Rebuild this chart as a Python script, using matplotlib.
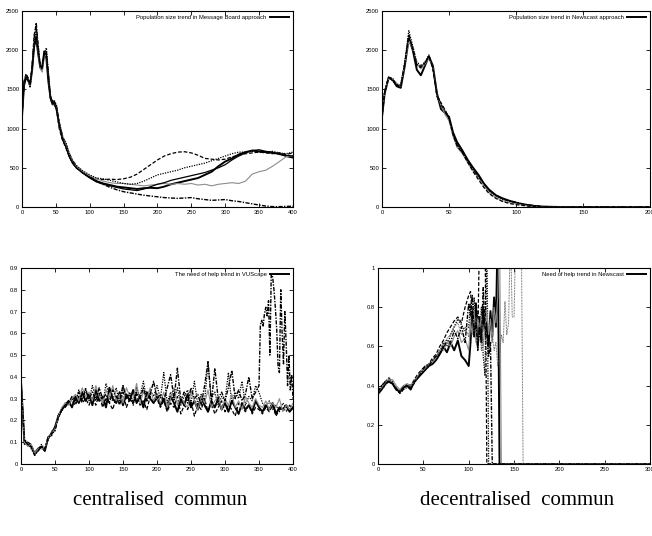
import matplotlib
matplotlib.use('Agg')
import matplotlib.pyplot as plt

# 1. Data
# --- top left: population size, message board (x = time)
tl_x = [0, 3, 6, 9, 12, 15, 18, 21, 24, 27, 30, 33, 36, 39, 42, 45, 48, 51,
        55, 60, 65, 70, 75, 80,
        90, 100, 110, 120, 130, 140,
        150, 160, 170, 180, 190, 200, 210, 220, 230, 240, 250, 260, 270,
        280, 290, 300, 310, 320, 330, 340, 350, 360, 370, 380, 390, 400]
tl_solid = [1150, 1550, 1650, 1620, 1560, 1750, 2050, 2150, 1950, 1780, 1800, 1980, 1900, 1600, 1400, 1320, 1330, 1250,
            1050, 870, 780, 650, 560, 510,
            440, 380, 330, 300, 280, 260,
            250, 240, 230, 240, 245, 240, 260, 290, 310, 330, 350, 370, 410,
            450, 520, 580, 620, 670, 700, 720, 710, 700, 690, 680, 650, 630]
tl_dashed = [1150, 1600, 1700, 1650, 1580, 1800, 2200, 2300, 2000, 1800, 1750, 1950, 1950, 1650, 1400, 1300, 1300, 1250,
             1000, 850, 750, 640, 560, 500,
             430, 380, 360, 350, 355, 350,
             360, 380, 420, 480, 540, 600, 650, 680, 700, 705, 690, 660, 620,
             610, 600, 610, 640, 660, 680, 690, 700, 690, 680, 690, 670, 690]
tl_falling = [1150, 1580, 1680, 1640, 1550, 1780, 2150, 2350, 2050, 1780, 1760, 2000, 1980, 1700, 1400, 1350, 1350, 1280,
              1080, 900, 800, 680, 590, 530,
              440, 390, 330, 290, 250, 220,
              195, 180, 165, 150, 140, 130, 120, 115, 110, 115, 120, 105, 95,
              85, 90, 95, 80, 70, 55, 40, 25, 12, 5, 5, 8, 10]
tl_gray = [1150, 1620, 1660, 1600, 1540, 1760, 2100, 2200, 1980, 1760, 1720, 1920, 1940, 1680, 1380, 1300, 1310, 1260,
           1040, 880, 790, 660, 570, 520,
           450, 400, 360, 330, 310, 300,
           300, 290, 280, 270, 280, 290, 300, 290, 300, 290, 300, 280, 290,
           270, 290, 300, 310, 300, 330, 420, 450, 470, 520, 580, 640, 660]
tl_dotted = [1150, 1560, 1640, 1620, 1520, 1800, 2100, 2250, 2050, 1800, 1770, 1960, 2030, 1720, 1420, 1340, 1350, 1300,
             1060, 880, 820, 660, 580, 530,
             460, 410, 370, 360, 340, 320,
             300, 290, 300, 330, 370, 410, 430, 450, 470, 500, 520, 540, 560,
             590, 620, 650, 680, 700, 700, 710, 700, 700, 710, 690, 680, 700]
tl_thin = [1150, 1600, 1660, 1610, 1570, 1760, 2080, 2180, 1990, 1790, 1780, 1970, 1950, 1660, 1380, 1310, 1320, 1240,
           1040, 860, 760, 640, 560, 500,
           430, 370, 320, 290, 270, 250,
           230, 220, 210, 230, 260, 290, 310, 340, 360, 380, 400, 420, 440,
           470, 500, 540, 600, 650, 690, 720, 730, 710, 700, 670, 660, 650]

# --- top right: population size, newscast
tr_x = [0, 2, 5, 8, 11, 14, 17, 20, 23, 26, 29, 32, 35, 38, 41, 44, 47, 50,
        53, 56, 60, 64, 68, 72, 76, 80,
        85, 90, 95, 100, 105, 110, 115, 120,
        130, 140, 150, 160, 170, 180, 190, 200]
tr_solid = [1150, 1450, 1650, 1620, 1540, 1520, 1800, 2150, 2000, 1750, 1680, 1800, 1920, 1800, 1450, 1250, 1200, 1150,
            950, 830, 720, 600, 500, 410, 300, 220,
            150, 110, 80, 55, 35, 22, 12, 5,
            1, 0, 0, 0, 0, 0, 0, 0]
tr_dotted = [1150, 1480, 1660, 1640, 1560, 1560, 1850, 2250, 2050, 1850, 1800, 1850, 1940, 1780, 1400, 1280, 1220, 1120,
             930, 800, 700, 580, 470, 380, 290, 200,
             140, 100, 70, 50, 30, 18, 8, 3,
             1, 0, 0, 0, 0, 0, 0, 0]
tr_gray = [1150, 1470, 1640, 1630, 1580, 1540, 1820, 2120, 2020, 1830, 1760, 1820, 1900, 1780, 1430, 1300, 1180, 1100,
           900, 760, 680, 560, 460, 370, 270, 180,
           120, 80, 55, 40, 25, 12, 6, 2,
           0, 0, 0, 0, 0, 0, 0, 0]
tr_dashed = [1150, 1460, 1650, 1630, 1560, 1530, 1820, 2180, 2030, 1800, 1780, 1840, 1920, 1760, 1420, 1330, 1240, 1140,
             920, 780, 690, 570, 450, 350, 250, 170,
             110, 70, 45, 30, 20, 10, 5, 2,
             0, 0, 0, 0, 0, 0, 0, 0]
tr_dashdot = [1150, 1470, 1660, 1610, 1550, 1550, 1830, 2200, 2010, 1820, 1790, 1830, 1930, 1770, 1440, 1310, 1230, 1130,
              940, 790, 700, 590, 480, 390, 300, 210,
              150, 105, 80, 60, 40, 25, 12, 5,
              2, 0, 0, 0, 0, 0, 0, 0]

# --- bottom left: need of help, VUScape (every 5 steps)
bl_x = list(range(0, 401, 5))
bl_solid = [0.38, 0.10, 0.09, 0.08, 0.05, 0.07, 0.08, 0.06, 0.12, 0.14, 0.17,
            0.22, 0.25, 0.27, 0.29, 0.26, 0.31, 0.28, 0.33, 0.29, 0.32,
            0.27, 0.34, 0.29, 0.31, 0.26, 0.35, 0.30, 0.28, 0.33, 0.27,
            0.32, 0.29, 0.34, 0.28, 0.31, 0.26, 0.33, 0.30, 0.28, 0.32,
            0.27, 0.30, 0.25, 0.31, 0.28, 0.24, 0.30, 0.27, 0.32, 0.26,
            0.29, 0.25, 0.31, 0.27, 0.24, 0.29, 0.26, 0.30, 0.25, 0.28,
            0.24, 0.29, 0.26, 0.23, 0.28, 0.25, 0.27, 0.24, 0.29, 0.26,
            0.24, 0.27, 0.25, 0.28, 0.23, 0.26, 0.25, 0.27, 0.24, 0.26]
bl_dotted = [0.37, 0.11, 0.10, 0.07, 0.04, 0.06, 0.09, 0.07, 0.11, 0.15, 0.16,
             0.23, 0.24, 0.28, 0.27, 0.30, 0.28, 0.34, 0.30, 0.35, 0.29,
             0.36, 0.30, 0.33, 0.27, 0.37, 0.31, 0.29, 0.35, 0.28, 0.36,
             0.30, 0.33, 0.27, 0.35, 0.31, 0.38, 0.29, 0.34, 0.31, 0.36,
             0.30, 0.42, 0.28, 0.33, 0.29, 0.35, 0.27, 0.31, 0.34, 0.28,
             0.38, 0.27, 0.32, 0.29, 0.46, 0.30, 0.33, 0.27, 0.31, 0.29,
             0.42, 0.28, 0.33, 0.30, 0.38, 0.27, 0.31, 0.29, 0.36, 0.33,
             0.28, 0.26, 0.29, 0.25, 0.27, 0.24, 0.28, 0.26, 0.25, 0.27]
bl_dashed = [0.38, 0.09, 0.10, 0.09, 0.05, 0.06, 0.08, 0.06, 0.13, 0.13, 0.16,
             0.21, 0.25, 0.26, 0.28, 0.29, 0.27, 0.31, 0.28, 0.30, 0.27,
             0.31, 0.27, 0.32, 0.26, 0.30, 0.28, 0.25, 0.31, 0.27, 0.33,
             0.26, 0.30, 0.28, 0.32, 0.27, 0.29, 0.25, 0.31, 0.28, 0.30,
             0.26, 0.29, 0.24, 0.28, 0.26, 0.31, 0.23, 0.27, 0.25, 0.29,
             0.22, 0.27, 0.25, 0.30, 0.24, 0.28, 0.23, 0.26, 0.29, 0.24,
             0.27, 0.25, 0.22, 0.28, 0.26, 0.24, 0.27, 0.23, 0.26, 0.25,
             0.23, 0.26, 0.24, 0.27, 0.22, 0.25, 0.26, 0.24, 0.27, 0.25]
bl_gray = [0.39, 0.10, 0.08, 0.09, 0.05, 0.07, 0.07, 0.07, 0.12, 0.14, 0.16,
           0.22, 0.26, 0.28, 0.27, 0.30, 0.32, 0.29, 0.35, 0.31, 0.33,
           0.29, 0.36, 0.31, 0.28, 0.34, 0.30, 0.36, 0.29, 0.32, 0.28,
           0.35, 0.31, 0.30, 0.37, 0.28, 0.33, 0.30, 0.35, 0.29, 0.32,
           0.28, 0.33, 0.26, 0.30, 0.35, 0.27, 0.31, 0.28, 0.26, 0.33,
           0.29, 0.25, 0.31, 0.28, 0.34, 0.26, 0.29, 0.31, 0.25, 0.30,
           0.27, 0.32, 0.26, 0.29, 0.25, 0.31, 0.28, 0.26, 0.30, 0.27,
           0.26, 0.29, 0.25, 0.28, 0.26, 0.30, 0.24, 0.27, 0.25, 0.28]
# the run that blows up after t=350, sampled finer at the end
bl_spike_x = list(range(0, 351, 5)) + list(range(352, 401, 2))
bl_spike = [0.38, 0.11, 0.09, 0.08, 0.04, 0.06, 0.08, 0.07, 0.12, 0.14, 0.15,
            0.22, 0.25, 0.27, 0.28, 0.31, 0.29, 0.33, 0.29, 0.34, 0.30,
            0.33, 0.29, 0.35, 0.30, 0.32, 0.28, 0.34, 0.31, 0.29, 0.36,
            0.30, 0.32, 0.28, 0.33, 0.30, 0.35, 0.29, 0.32, 0.38, 0.30,
            0.32, 0.29, 0.35, 0.41, 0.30, 0.44, 0.29, 0.33, 0.28, 0.35,
            0.30, 0.32, 0.27, 0.36, 0.47, 0.28, 0.44, 0.30, 0.33, 0.29,
            0.35, 0.43, 0.30, 0.34, 0.29, 0.32, 0.40, 0.30, 0.33, 0.36,
            0.64, 0.66, 0.63, 0.69, 0.72, 0.68, 0.75, 0.50, 0.87, 0.86,
            0.80, 0.72, 0.62, 0.45, 0.42, 0.80, 0.60, 0.46, 0.70, 0.55,
            0.36, 0.50, 0.34, 0.41, 0.30]

# --- bottom right: need of help, newscast (values > 1 get clipped at the top)
br_x = list(range(0, 100, 4)) + list(range(100, 161, 2)) + [200, 250, 300]
br_solid = [0.36, 0.38, 0.41, 0.42, 0.41, 0.38, 0.37, 0.39, 0.40, 0.38, 0.42, 0.44, 0.46,
            0.48, 0.50, 0.51, 0.53, 0.56, 0.60, 0.57, 0.62, 0.58, 0.63, 0.55, 0.53,
            0.50, 0.62, 0.78, 0.65, 0.82, 0.60, 0.75, 0.62, 0.80, 0.66, 0.72, 0.60, 0.78,
            0.65, 0.85, 0.70, 1.20, 0, 0, 0, 0, 0, 0, 0, 0, 0, 0, 0, 0, 0, 0,
            0, 0, 0]
br_dashed = [0.37, 0.40, 0.42, 0.44, 0.41, 0.39, 0.36, 0.38, 0.41, 0.40, 0.43, 0.46, 0.48,
             0.50, 0.51, 0.54, 0.56, 0.60, 0.63, 0.67, 0.70, 0.73, 0.75, 0.72, 0.80,
             0.86, 0.88, 0.75, 0.68, 0.80, 0.62, 1.20, 1.20, 1.20, 1.20, 0, 0, 0,
             0, 0, 0, 0, 0, 0, 0, 0, 0, 0, 0, 0, 0, 0, 0, 0, 0, 0,
             0, 0, 0]
br_dotted = [0.35, 0.38, 0.40, 0.43, 0.42, 0.38, 0.36, 0.38, 0.39, 0.39, 0.41, 0.44, 0.47,
             0.48, 0.50, 0.52, 0.55, 0.57, 0.62, 0.60, 0.66, 0.70, 0.74, 0.71, 0.68,
             0.70, 0.82, 0.72, 0.85, 0.70, 0.78, 0.65, 0.80, 0.55, 0.45, 1.20, 0, 0,
             0, 0, 0, 0, 0, 0, 0, 0, 0, 0, 0, 0, 0, 0, 0, 0, 0, 0,
             0, 0, 0]
br_gray = [0.38, 0.39, 0.42, 0.43, 0.43, 0.40, 0.38, 0.40, 0.41, 0.40, 0.42, 0.45, 0.47,
           0.49, 0.51, 0.52, 0.55, 0.58, 0.58, 0.62, 0.60, 0.65, 0.68, 0.62, 0.64,
           0.58, 0.72, 0.66, 0.78, 0.62, 0.74, 0.68, 0.76, 0.60, 0.70, 0.78, 0.66, 0.74,
           0.62, 0.80, 0.72, 0.85, 1.20, 0, 0, 0, 0, 0, 0, 0, 0, 0, 0, 0, 0, 0,
           0, 0, 0]
br_fine = [0.36, 0.39, 0.41, 0.44, 0.42, 0.39, 0.37, 0.40, 0.40, 0.40, 0.43, 0.45, 0.48,
           0.49, 0.51, 0.53, 0.54, 0.58, 0.61, 0.64, 0.66, 0.70, 0.72, 0.66, 0.70,
           0.65, 0.76, 0.70, 0.66, 0.75, 0.62, 0.72, 0.58, 0.68, 0.72, 0.64, 0.56, 0.60,
           0.66, 0.58, 0.62, 0.50, 0.55, 0.66, 0.62, 0.83, 0.66, 0.72, 1.20, 0.75, 0.75,
           1.20, 1.20, 1.20, 1.20, 0,
           0, 0, 0]
br_dashdot = [0.37, 0.40, 0.42, 0.42, 0.41, 0.38, 0.37, 0.39, 0.40, 0.39, 0.42, 0.44, 0.47,
              0.50, 0.50, 0.53, 0.55, 0.56, 0.59, 0.63, 0.62, 0.68, 0.64, 0.70, 0.62,
              0.82, 0.76, 0.86, 0.66, 0.72, 0.58, 0.70, 0.62, 0.90, 0.70, 0.66, 0.55, 0.62,
              0, 0, 0, 0, 0, 0, 0, 0, 0, 0, 0, 0, 0, 0, 0, 0, 0, 0,
              0, 0, 0]

tl_legend = 'Population size trend in Message Board approach'
tr_legend = 'Population size trend in Newscast approach'
bl_legend = 'The need of help trend in VUScape'
br_legend = 'Need of help trend in Newscast'
captions = ['centralised  commun', 'decentralised  commun']

# 2. Line styles (gnuplot monochrome look)
SOLID = dict(color='black', lw=1.4, ls='-')
DASHED = dict(color='black', lw=0.9, ls=(0, (3, 1.5)))
DOTTED = dict(color='black', lw=0.9, ls=(0, (1, 1)))
DASHDOT = dict(color='black', lw=1.0, ls=(0, (3, 1, 1, 1)))
GRAY = dict(color='#8c8c8c', lw=0.8, ls='-')
FINE = dict(color='#555555', lw=0.7, ls=(0, (0.8, 0.8)))
THIN = dict(color='black', lw=0.9, ls='-')

TICK_FONT = 'Liberation Sans'


def style_axes(ax, xlim, xticks, ylim, yticks, yfmt):
    ax.set_xlim(*xlim)
    ax.set_ylim(*ylim)
    ax.set_xticks(xticks)
    ax.set_yticks(yticks)
    ax.set_yticklabels([yfmt(v) for v in yticks])
    ax.tick_params(direction='in', top=True, right=True, length=3, width=0.6,
                   labelsize=4.2, pad=2)
    for lab in ax.get_xticklabels() + ax.get_yticklabels():
        lab.set_fontfamily(TICK_FONT)
    for sp in ax.spines.values():
        sp.set_linewidth(0.8)


def add_legend(ax):
    leg = ax.legend(loc='upper right', frameon=False, markerfirst=False,
                    handlelength=3.2, handletextpad=0.6, borderaxespad=0.3,
                    prop={'family': TICK_FONT, 'size': 4.2})
    return leg


fig = plt.figure(figsize=(6.52, 5.36), dpi=100)

ax_tl = fig.add_axes([0.0337, 0.6138, 0.4156, 0.3657])
ax_tr = fig.add_axes([0.5859, 0.6138, 0.4110, 0.3657])
ax_bl = fig.add_axes([0.0322, 0.1343, 0.4172, 0.3657])
ax_br = fig.add_axes([0.5798, 0.1343, 0.4172, 0.3657])

# 3. Top left
ax_tl.plot(tl_x, tl_solid, label=tl_legend, **SOLID)
ax_tl.plot(tl_x, tl_dashed, **DASHED)
ax_tl.plot(tl_x, tl_falling, **DASHDOT)
ax_tl.plot(tl_x, tl_gray, **GRAY)
ax_tl.plot(tl_x, tl_dotted, **DOTTED)
ax_tl.plot(tl_x, tl_thin, **THIN)
style_axes(ax_tl, (0, 400), range(0, 401, 50), (0, 2500), range(0, 2501, 500), lambda v: f'{v}')
add_legend(ax_tl)

# 4. Top right
ax_tr.plot(tr_x, tr_solid, label=tr_legend, **SOLID)
ax_tr.plot(tr_x, tr_dotted, **DOTTED)
ax_tr.plot(tr_x, tr_gray, **GRAY)
ax_tr.plot(tr_x, tr_dashed, **DASHED)
ax_tr.plot(tr_x, tr_dashdot, **DASHDOT)
style_axes(ax_tr, (0, 200), range(0, 201, 50), (0, 2500), range(0, 2501, 500), lambda v: f'{v}')
add_legend(ax_tr)

# 5. Bottom left
ax_bl.plot(bl_x, bl_solid, label=bl_legend, **SOLID)
ax_bl.plot(bl_x, bl_dotted, **DOTTED)
ax_bl.plot(bl_x, bl_dashed, **DASHED)
ax_bl.plot(bl_x, bl_gray, **GRAY)
ax_bl.plot(bl_spike_x, bl_spike, **DASHDOT)
bl_yticks = [0, 0.1, 0.2, 0.3, 0.4, 0.5, 0.6, 0.7, 0.8, 0.9]
style_axes(ax_bl, (0, 400), range(0, 401, 50), (0, 0.9), bl_yticks,
           lambda v: '0' if v == 0 else f'{v:.1f}')
add_legend(ax_bl)

# 6. Bottom right
ax_br.plot(br_x, br_solid, label=br_legend, **SOLID)
ax_br.plot(br_x, br_dashed, **DASHED)
ax_br.plot(br_x, br_dotted, **DOTTED)
ax_br.plot(br_x, br_gray, **GRAY)
ax_br.plot(br_x, br_fine, **FINE)
ax_br.plot(br_x, br_dashdot, **DASHDOT)
br_yticks = [0, 0.2, 0.4, 0.6, 0.8, 1.0]
style_axes(ax_br, (0, 300), range(0, 301, 50), (0, 1), br_yticks,
           lambda v: '0' if v == 0 else ('1' if v == 1 else f'{v:.1f}'))
add_legend(ax_br)

# 7. Captions under each column
fig.text(0.245, 0.058, captions[0], ha='center', va='baseline',
         family='Liberation Serif', fontsize=15)
fig.text(0.793, 0.058, captions[1], ha='center', va='baseline',
         family='Liberation Serif', fontsize=15)

fig.savefig('out.png', dpi=100)
